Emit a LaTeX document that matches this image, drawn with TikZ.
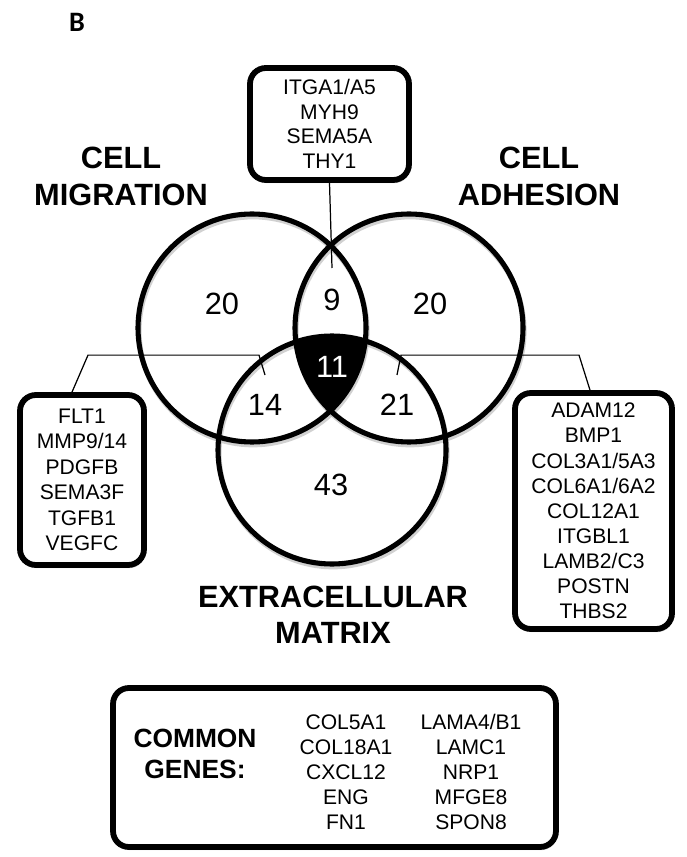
\documentclass[tikz,border=0pt]{standalone}
\usepackage{fontspec}
\setmainfont{Liberation Sans}
\newfontfamily\panelfont{Carlito}
\usetikzlibrary{shadows}

\begin{document}
\begin{tikzpicture}[x=0.02cm,y=-0.02cm,
    genebox/.style={draw,fill=white,line width=3.3pt,rounded corners=9pt,align=center,inner sep=0pt,
      font=\fontsize{12}{14.3}\selectfont,
      drop shadow={shadow xshift=0.8pt,shadow yshift=-1.8pt,opacity=0.3}},
    genelist/.style={align=center,inner sep=0pt,font=\fontsize{12}{14.3}\selectfont},
    setname/.style={align=center,font=\fontsize{17.5}{21}\selectfont\bfseries},
    count/.style={font=\fontsize{17.5}{17.5}\selectfont},
    setring/.style={line width=2.9pt},
    ringshadow/.style={line width=2.9pt,black!30,opacity=0.6},
    lead/.style={line width=0.7pt}]
  \useasboundingbox (0,0) rectangle (686,857);

  % panel letter and set names
  \node (panel) at (77,22) {\panelfont\fontsize{16}{16}\selectfont\bfseries B};
  \node[setname] (migname) at (121,176) {CELL\\MIGRATION};
  \node[setname] (adhname) at (539,176) {CELL\\ADHESION};
  \node[setname,font=\fontsize{17.5}{20.4}\selectfont\bfseries] (ecmname) at (333,615) {EXTRACELLULAR\\MATRIX};

  % the three sets
  \coordinate (mig) at (252,328);
  \coordinate (adh) at (409,328);
  \coordinate (ecm) at (332,450);
  \foreach \c in {mig,adh,ecm}
    \draw[ringshadow] ([xshift=0.6pt,yshift=-1.6pt]\c) circle [radius=114];
  \begin{scope}
    \clip (mig) circle [radius=114];
    \clip (adh) circle [radius=114];
    \fill (ecm) circle [radius=114];
  \end{scope}
  \foreach \c in {mig,adh,ecm}
    \draw[setring] (\c) circle [radius=114];

  % counts
  \node[count] (onlymig) at (222,304) {20};
  \node[count] (migadh) at (332,300) {9};
  \node[count] (onlyadh) at (430,304) {20};
  \node[count,text=white] (allthree) at (332,367) {11};
  \node[count] (migecm) at (265,405) {14};
  \node[count] (adhecm) at (397,405) {21};
  \node[count] (onlyecm) at (331,485) {43};

  % gene boxes
  \node[genebox,minimum width=3.18cm,minimum height=2.24cm,font=\fontsize{12}{14}\selectfont] (topbox) at (329.5,124)
    {ITGA1/A5\\MYH9\\SEMA5A\\THY1};
  \node[genebox,minimum width=2.48cm,minimum height=3.4cm,font=\fontsize{12}{14.5}\selectfont] (leftbox) at (82,480)
    {FLT1\\MMP9/14\\PDGFB\\SEMA3F\\TGFB1\\VEGFC};
  \node[genebox,minimum width=3.14cm,minimum height=4.72cm] (rightbox) at (593.5,511)
    {ADAM12\\BMP1\\COL3A1/5A3\\COL6A1/6A2\\COL12A1\\ITGBL1\\LAMB2/C3\\POSTN\\THBS2};

  % leads from boxes into the overlaps
  \coordinate (tipnine) at (332,268);
  \coordinate (tipfourteen) at (265,375);
  \coordinate (tiptwentyone) at (397,375);
  \draw[lead] (topbox.south) -- (tipnine);
  \draw[lead] ([xshift=-0.2cm]leftbox.north) -- ++(16,-37) -- ++(171,0) -- (tipfourteen);
  \draw[lead] ([xshift=-0.07cm]rightbox.north) -- ++(-11,-35) -- ++(-178,0) -- (tiptwentyone);

  % common genes
  \node[genebox,minimum width=8.86cm,minimum height=3.18cm] (commonbox) at (334.5,767.5) {};
  \node[setname,font=\fontsize{15}{18}\selectfont\bfseries] (commonname) at (195,754) {COMMON\\GENES:};
  \node[genelist] (commonleft) at (346,772) {COL5A1\\COL18A1\\CXCL12\\ENG\\FN1};
  \node[genelist] (commonright) at (471,772) {LAMA4/B1\\LAMC1\\NRP1\\MFGE8\\SPON8};
\end{tikzpicture}
\end{document}
